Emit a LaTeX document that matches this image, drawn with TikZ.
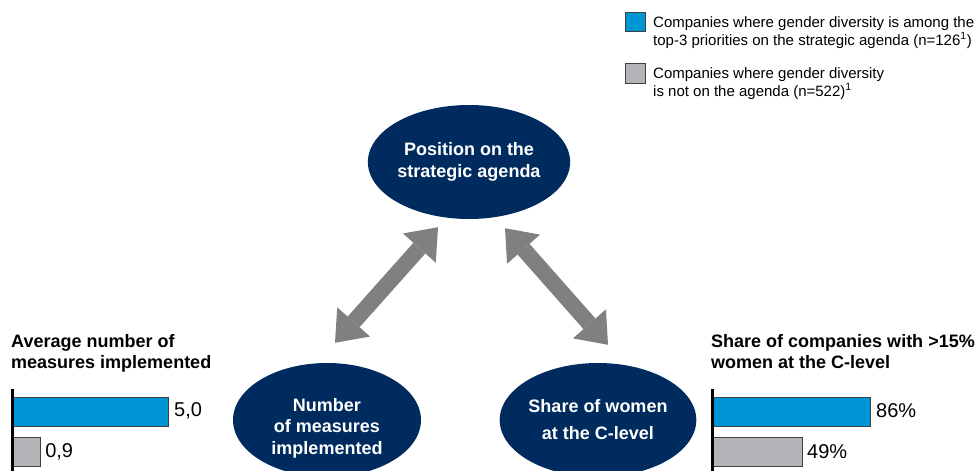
\documentclass[tikz,border=0pt]{standalone}
\usepackage{fontspec}
\setmainfont{Liberation Sans}
\definecolor{agendanavy}{HTML}{002B5E}
\definecolor{topblue}{HTML}{0096D6}
\definecolor{nogray}{HTML}{B4B4B8}
\definecolor{arrowgray}{HTML}{808080}
\usetikzlibrary{shapes.geometric, arrows.meta, calc, positioning}
\tikzset{
	bubble/.style={ellipse, fill=agendanavy, text=white, minimum width=188pt, minimum height=114pt,
		inner sep=0pt, align=center, font=\fontsize{18}{21.5}\selectfont\bfseries},
	twoway/.style={arrowgray, line width=16pt,
		{Triangle[width=44pt,length=28pt,line width=0pt]}-{Triangle[width=44pt,length=28pt,line width=0pt]}},
	charttitle/.style={anchor=north west, inner sep=0pt, align=left, font=\fontsize{18}{21}\selectfont\bfseries},
	legendtext/.style={anchor=north west, inner sep=0pt, align=left, font=\fontsize{15}{18}\selectfont},
	valuelabel/.style={anchor=west, inner sep=0pt, font=\fontsize{20}{24}\selectfont},
	barbox/.style={draw=black!75, line width=0.8pt}
}

\begin{document}
\begin{tikzpicture}[x=1pt, y=-1pt]
	\pgfmathsetmacro{\unitm}{31.2}
	\pgfmathsetmacro{\unitp}{1.837}
	\useasboundingbox (0,0) rectangle (978,471);
	\clip (0,0) rectangle (978,471);
	
	% Legend
	\draw[barbox, fill=topblue] (625,12) rectangle (645,31);
	\node[legendtext] (legtop) at (653,16) {Companies where gender diversity is among the\\top-3 priorities on the strategic agenda (n=126\textsuperscript{1})};
	\draw[barbox, fill=nogray] (625,63) rectangle (645,83);
	\node[legendtext] (legnot) at (653,67) {Companies where gender diversity\\is not on the agenda (n=522)\textsuperscript{1}};
	
	% Triangle of bubbles
	\node[bubble] (agenda) at (469,162) {Position on the\\strategic agenda};
	\node[bubble, text height=72pt] (measures) at (327,420) {Number\\of measures\\implemented};
	\node[bubble, font=\fontsize{18}{27}\selectfont\bfseries] (share) at (598,420) {Share of women\\at the C-level};
	
	\draw[twoway] ($(measures.north)+(8,-20)$) -- ($(agenda.south)+(-31,8)$);
	\draw[twoway] ($(agenda.south)+(36,9)$) -- ($(share.north)+(10,-18)$);
	
	% Left chart
	\node[charttitle] (lefttitle) at (11,334) {Average number of\\measures implemented};
	\draw[barbox, fill=topblue] (12,397) rectangle (12+5.0*\unitm,426);
	\draw[barbox, fill=nogray] (12,437) rectangle (12+0.9*\unitm,466);
	\draw[line width=3pt] (12,389) -- (12,471);
	\node[valuelabel] (lefttop) at (12+5.0*\unitm+6,411) {5,0};
	\node[valuelabel] (leftnot) at (12+0.9*\unitm+5,452) {0,9};
	
	% Right chart
	\node[charttitle] (righttitle) at (711,334) {Share of companies with >15\%\\women at the C-level};
	\draw[barbox, fill=topblue] (712,397) rectangle (712+86*\unitp,426);
	\draw[barbox, fill=nogray] (712,437) rectangle (712+49*\unitp,466);
	\draw[line width=3pt] (712,389) -- (712,471);
	\node[valuelabel] (righttop) at (712+86*\unitp+6,411) {86\%};
	\node[valuelabel] (rightnot) at (712+49*\unitp+5,452) {49\%};
\end{tikzpicture}
\end{document}
